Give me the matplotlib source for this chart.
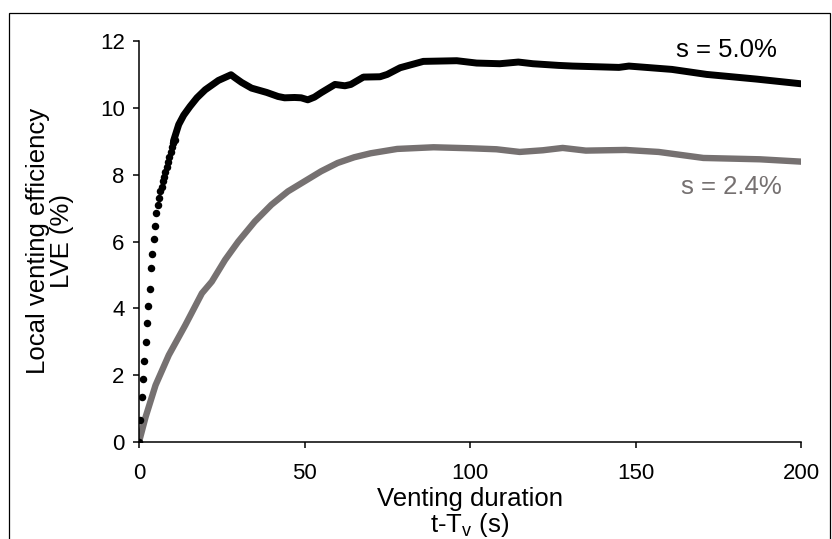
import matplotlib
matplotlib.use("Agg")
import matplotlib.pyplot as plt
from matplotlib.patches import Rectangle

plt.rcParams['font.family'] = ['Liberation Sans', 'DejaVu Sans']
plt.rcParams['mathtext.default'] = 'regular'

# s = 5.0 % : early samples (visible as separate dots)
t_50_dots = [0.0, 0.4, 0.8, 1.2, 1.6, 2.0, 2.4, 2.8, 3.2, 3.6, 4.0, 4.4, 4.8, 5.2,
             5.6, 6.0, 6.4, 6.8, 7.2, 7.6, 8.0, 8.4, 8.8, 9.2, 9.6, 10.0, 10.4, 10.8]
lve_50_dots = [0.0, 0.66, 1.34, 1.89, 2.43, 3.0, 3.56, 4.08, 4.58, 5.22, 5.63, 6.08, 6.45, 6.84,
               7.08, 7.31, 7.5, 7.64, 7.8, 7.94, 8.09, 8.24, 8.39, 8.54, 8.67, 8.82, 8.94, 9.04]

# s = 5.0 % : later samples (merged into a thick band)
t_50 = [10.4, 12.0, 13.5, 15.4, 17.5, 20.0, 24.0, 27.8, 29.0, 31.0, 34.0, 38.6, 42.0, 44.0,
        47.0, 49.0, 51.0, 53.0, 55.0, 59.2, 62.2, 64.0, 67.8, 72.8, 75.0, 78.9, 85.9, 96.0,
        102.0, 109.0, 114.6, 119.0, 126.7, 131.0, 145.0, 148.0, 161.0, 171.5, 186.6, 200.0]
lve_50 = [9.0, 9.5, 9.78, 10.04, 10.3, 10.54, 10.82, 10.99, 10.9, 10.76, 10.59, 10.46, 10.34, 10.30,
          10.31, 10.30, 10.24, 10.32, 10.45, 10.70, 10.66, 10.70, 10.92, 10.93, 11.0, 11.2, 11.39, 11.41,
          11.34, 11.32, 11.37, 11.32, 11.27, 11.25, 11.21, 11.25, 11.15, 11.0, 10.86, 10.72]

# s = 2.4 %
t_24 = [0.0, 2.0, 5.0, 9.0, 14.0, 19.0, 22.0, 26.0, 30.0, 35.0, 40.0, 45.0, 50.0, 55.0, 60.0,
        65.0, 70.0, 78.0, 89.0, 100.0, 108.0, 115.0, 122.0, 128.0, 135.0, 147.0, 157.0, 170.5,
        187.6, 200.0]
lve_24 = [0.0, 0.75, 1.7, 2.6, 3.5, 4.45, 4.8, 5.45, 6.0, 6.6, 7.1, 7.5, 7.8, 8.1, 8.35,
          8.52, 8.64, 8.77, 8.82, 8.79, 8.76, 8.68, 8.73, 8.8, 8.72, 8.74, 8.68, 8.5,
          8.46, 8.39]

gray = '#767171'

fig = plt.figure(figsize=(8.32, 5.39), dpi=100)
ax = fig.add_axes([139/832, 1 - 442/539, 662/832, 401/539])

ax.plot(t_24, lve_24, color=gray, lw=4.6, solid_capstyle='round', solid_joinstyle='round', zorder=2)
ax.plot(t_50_dots, lve_50_dots, 'o', color='black', ms=5.4, mew=0, zorder=3)
ax.plot(t_50, lve_50, color='black', lw=5.0, solid_capstyle='round', solid_joinstyle='round', zorder=3)

ax.text(177.6, 11.74, 's = 5.0%', fontsize=18.5, color='black', ha='center', va='center')
ax.text(179, 7.63, 's = 2.4%', fontsize=18.5, color=gray, ha='center', va='center')

ax.set_xlim(0, 200)
ax.set_ylim(0, 12)
ax.set_xticks([0, 50, 100, 150, 200])
ax.set_yticks([0, 2, 4, 6, 8, 10, 12])
for s in ['top', 'right']:
    ax.spines[s].set_visible(False)
for s in ['left', 'bottom']:
    ax.spines[s].set_linewidth(1.1)
ax.tick_params(axis='both', direction='out', length=4.3, width=1.1, labelsize=16)
ax.tick_params(axis='x', pad=11)
ax.tick_params(axis='y', pad=6)

fig.text(50/832, 1 - 241/539, 'Local venting efficiency\nLVE (%)', rotation=90,
         ha='center', va='center', fontsize=18.5, linespacing=1.0)
fig.text(470/832, 1 - 513/539, 'Venting duration\nt-T$_{v}$ (s)',
         ha='center', va='center', fontsize=18.5, linespacing=1.0)

fig.patches.append(Rectangle((9/832, -0.1), 821/832, 1.1 - 13/539, transform=fig.transFigure,
                             fill=False, edgecolor='black', lw=0.9))

fig.savefig('out.png', dpi=100)
